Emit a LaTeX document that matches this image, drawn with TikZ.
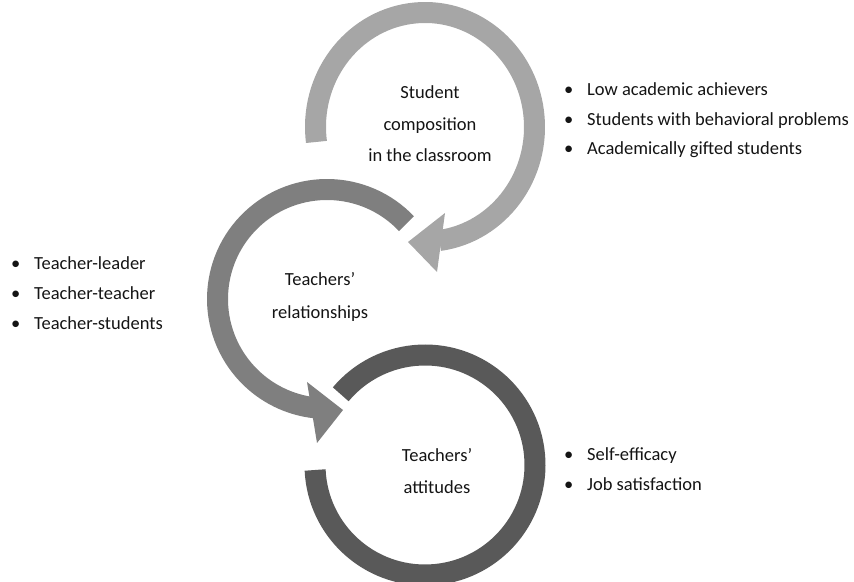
\documentclass[tikz,border=0pt]{standalone}
\usepackage{fontspec}
\setmainfont{Carlito}
\definecolor{ringA}{RGB}{166,166,166}
\definecolor{ringB}{RGB}{127,127,127}
\definecolor{ringC}{RGB}{89,89,89}
\definecolor{txt}{RGB}{20,20,20}
\tikzset{
  ringline/.style={line width=21pt, line cap=butt},
  ringlabel/.style={align=center, font=\fontsize{18.5}{31.5}\selectfont, text=txt, inner sep=0pt},
  item/.style={anchor=base west, font=\fontsize{18.5}{22}\selectfont, text=txt, inner sep=0pt},
}
\newcommand{\bul}[1]{\makebox[23pt][l]{\raisebox{0pt}{•}}#1}
\begin{document}
\begin{tikzpicture}[x=1pt,y=1pt]
\useasboundingbox (0,0) rectangle (854,581);
\coordinate (c1) at (425,454);
\coordinate (c2) at (327,282);
\coordinate (c3) at (425,116);

% ring 3 (dark, no head)
\draw[ringline, ringC] (c3) ++(182.6:110) arc[start angle=182.6, end angle=500, radius=110];

% ring 2 (mid grey) with head
\draw[ringline, ringB] (c2) ++(43.5:109.5) arc[start angle=43.5, end angle=264, radius=109.5];
\coordinate (h2a) at (307,199);
\coordinate (h2t) at (343,171);
\coordinate (h2b) at (317,138);
\fill[ringB] (h2a) -- (h2t) -- (h2b) -- cycle;

% ring 1 (light grey) with head
\draw[ringline, ringA] (c1) ++(187.5:109.5 and 114.5) arc[start angle=187.5, end angle=-82.5, x radius=109.5, y radius=114.5];
\coordinate (h1a) at (445,368);
\coordinate (h1t) at (408,339);
\coordinate (h1b) at (437,309);
\fill[ringA] (h1a) -- (h1t) -- (h1b) -- cycle;

% labels inside rings
\node[ringlabel] (l1) at (430,457) {Student\\composition\\in the classroom};
\node[ringlabel] (l2) at (320,284.5) {Teachers’\\[1.5pt]relationships};
\node[ringlabel] (l3) at (437,110) {Teachers’\\[0.5pt]attitudes};

% bullet lists
\node[item] (a1) at (564,485) {\bul{Low academic achievers}};
\node[item] (a2) at (564,455.5) {\bul{Students with behavioral problems}};
\node[item] (a3) at (564,426) {\bul{Academically gifted students}};

\node[item] (b1) at (11,311) {\bul{Teacher-leader}};
\node[item] (b2) at (11,281) {\bul{Teacher-teacher}};
\node[item] (b3) at (11,251) {\bul{Teacher-students}};

\node[item] (d1) at (564,120) {\bul{Self-efficacy}};
\node[item] (d2) at (564,90) {\bul{Job satisfaction}};
\end{tikzpicture}
\end{document}
